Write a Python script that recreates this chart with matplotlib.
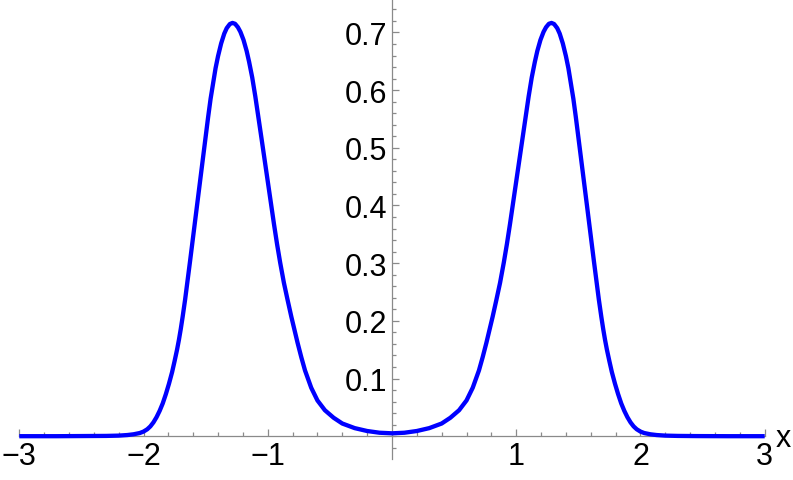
import numpy as np
import matplotlib.pyplot as plt
from matplotlib.ticker import MultipleLocator, FixedLocator, FixedFormatter

plt.rcParams['font.family'] = ['Liberation Sans', 'DejaVu Sans']

# curve (x, density)
x_vals = [-3.00, -2.70, -2.45, -2.30, -2.20, -2.13, -2.08, -2.03, -2.00, -1.97,
          -1.945, -1.92, -1.895, -1.87, -1.845, -1.82, -1.795, -1.77, -1.75, -1.73,
          -1.715, -1.70, -1.685, -1.665, -1.645, -1.625, -1.61, -1.59, -1.57, -1.55,
          -1.525, -1.50, -1.48, -1.46, -1.44, -1.42, -1.40, -1.375, -1.35, -1.33,
          -1.305, -1.284, -1.263, -1.24, -1.22, -1.195, -1.17, -1.15, -1.125, -1.10,
          -1.075, -1.05, -1.025, -1.00, -0.975, -0.95, -0.925, -0.90, -0.87, -0.84,
          -0.81, -0.787, -0.76, -0.73, -0.70, -0.65, -0.60, -0.54, -0.47, -0.40,
          -0.30, -0.20, -0.10, 0.00,
          0.10, 0.20, 0.30, 0.40, 0.47, 0.54, 0.60, 0.65, 0.70, 0.73,
          0.76, 0.787, 0.81, 0.84, 0.87, 0.90, 0.925, 0.95, 0.975, 1.00,
          1.025, 1.05, 1.075, 1.10, 1.125, 1.15, 1.17, 1.195, 1.22, 1.24,
          1.263, 1.284, 1.305, 1.33, 1.35, 1.375, 1.40, 1.42, 1.44, 1.46,
          1.48, 1.50, 1.525, 1.55, 1.57, 1.59, 1.61, 1.625, 1.645, 1.665,
          1.685, 1.70, 1.715, 1.73, 1.75, 1.77, 1.795, 1.82, 1.845, 1.87,
          1.895, 1.92, 1.945, 1.97, 2.00, 2.03, 2.08, 2.13, 2.20, 2.30,
          2.45, 2.70, 3.00]
y_vals = [0.0, 0.0, 0.0002, 0.0005, 0.001, 0.002, 0.0033, 0.0055, 0.008, 0.012,
          0.017, 0.024, 0.033, 0.044, 0.057, 0.073, 0.091, 0.111, 0.130, 0.150,
          0.167, 0.186, 0.207, 0.237, 0.270, 0.304, 0.330, 0.364, 0.399, 0.433,
          0.476, 0.519, 0.553, 0.585, 0.612, 0.638, 0.659, 0.681, 0.698, 0.7075,
          0.7146, 0.7165, 0.715, 0.709, 0.701, 0.687, 0.668, 0.649, 0.622, 0.589,
          0.553, 0.516, 0.479, 0.442, 0.405, 0.368, 0.333, 0.301, 0.266, 0.236,
          0.207, 0.186, 0.162, 0.137, 0.114, 0.084, 0.062, 0.045, 0.032, 0.022,
          0.014, 0.009, 0.006, 0.005,
          0.006, 0.009, 0.014, 0.022, 0.032, 0.045, 0.062, 0.084, 0.114, 0.137,
          0.162, 0.186, 0.207, 0.236, 0.266, 0.301, 0.333, 0.368, 0.405, 0.442,
          0.479, 0.516, 0.553, 0.589, 0.622, 0.649, 0.668, 0.687, 0.701, 0.709,
          0.715, 0.7165, 0.7146, 0.7075, 0.698, 0.681, 0.659, 0.638, 0.612, 0.585,
          0.553, 0.519, 0.476, 0.433, 0.399, 0.364, 0.330, 0.304, 0.270, 0.237,
          0.207, 0.186, 0.167, 0.150, 0.130, 0.111, 0.091, 0.073, 0.057, 0.044,
          0.033, 0.024, 0.017, 0.012, 0.008, 0.0055, 0.0033, 0.002, 0.001, 0.0005,
          0.0002, 0.0, 0.0]

x_ticks = [-3, -2, -1, 1, 2, 3]
x_labels = ['\u22123', '\u22122', '\u22121', '1', '2', '3']
y_ticks = [0.1, 0.2, 0.3, 0.4, 0.5, 0.6, 0.7]
y_labels = ['0.1', '0.2', '0.3', '0.4', '0.5', '0.6', '0.7']

fig = plt.figure(figsize=(7.93, 4.81), dpi=100)
ax = fig.add_axes([0.0243, 0.0437, 0.94, 0.9563])

ax.plot(x_vals, y_vals, color='#0000ff', lw=3.1, zorder=5,
        solid_joinstyle='round', solid_capstyle='butt')

ax.set_xlim(-3, 3)
ax.set_ylim(-0.0395, 0.758)

grey = '#8a8a8a'
for s in ['top', 'right']:
    ax.spines[s].set_visible(False)
ax.spines['left'].set_position(('data', 0))
ax.spines['bottom'].set_position(('data', 0))
for s in ['left', 'bottom']:
    ax.spines[s].set_color(grey)
    ax.spines[s].set_linewidth(0.9)

ax.xaxis.set_major_locator(FixedLocator(x_ticks))
ax.xaxis.set_major_formatter(FixedFormatter(x_labels))
ax.xaxis.set_minor_locator(MultipleLocator(0.2))
ax.yaxis.set_major_locator(FixedLocator(y_ticks))
ax.yaxis.set_major_formatter(FixedFormatter(y_labels))
ax.yaxis.set_minor_locator(MultipleLocator(0.02))

ax.tick_params(which='both', direction='in', color=grey, width=0.9,
               labelsize=22, labelcolor='black', pad=3.5)
ax.tick_params(which='major', length=5)
ax.tick_params(which='minor', length=3.2)

ax.text(3.153, -0.003, 'x', fontsize=22, ha='center', va='center', clip_on=False)

ax.patch.set_visible(False)
fig.savefig('out.png', dpi=100)
